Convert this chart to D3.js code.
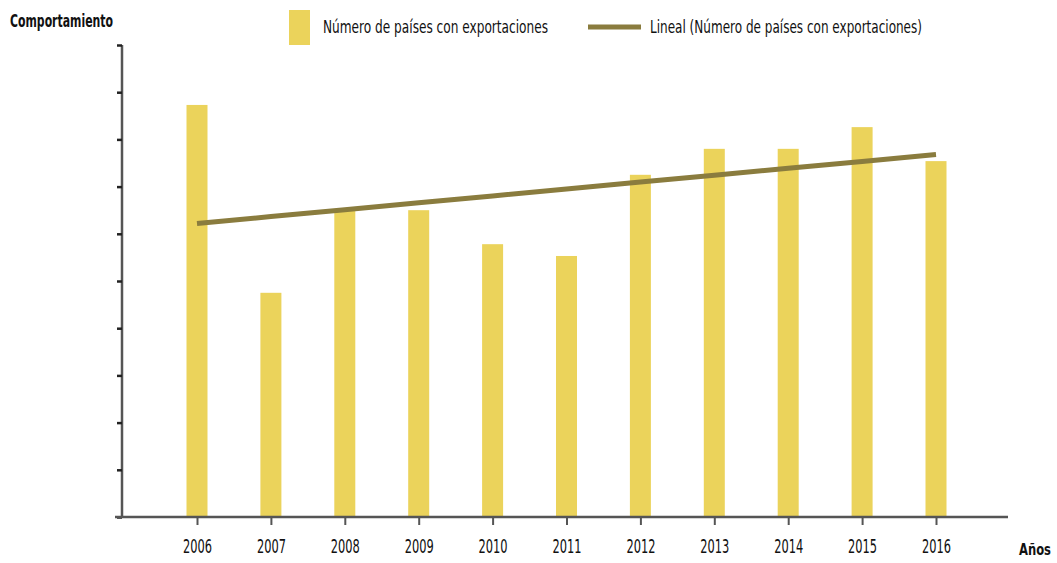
<!DOCTYPE html>
<html><head><meta charset="utf-8">
<script src="https://cdn.jsdelivr.net/npm/d3@7"></script>
<style>
body{margin:0;background:#fff;}
text{font-family:"DejaVu Sans Condensed","Liberation Sans",sans-serif;font-stretch:condensed;}
</style></head><body>
<svg id="c" width="1057" height="563"></svg>
<script>
const years = ["2006","2007","2008","2009","2010","2011","2012","2013","2014","2015","2016"];
const values = [87.3, 47.5, 65, 65, 57.8, 55.3, 72.5, 78, 78, 82.6, 75.4];
const yTicks = [0,10,20,30,40,50,60,70,80,90,100];
const seriesName = "Número de países con exportaciones";
const trendName = "Lineal (Número de países con exportaciones)";

const svg = d3.select("#c");
const barColor = "#EBD35B", lineColor = "#8A7C3E", axisColor = "#555";
const fam = '"DejaVu Sans Condensed","Liberation Sans",sans-serif';

const x = d3.scalePoint().domain(years).range([197, 936]);
const y = d3.scaleLinear().domain([0, 100]).range([517, 45]);
const barW = 21;

// bars
svg.append("g").selectAll("rect").data(values).join("rect")
  .attr("x", (d,i) => x(years[i]) - barW/2)
  .attr("width", barW)
  .attr("y", d => y(d))
  .attr("height", d => y(0) - y(d))
  .attr("fill", barColor);

// linear trend (least squares)
const n = values.length;
const xs = d3.range(n);
const mx = d3.mean(xs), my = d3.mean(values);
const slope = d3.sum(xs, i => (i-mx)*(values[i]-my)) / d3.sum(xs, i => (i-mx)*(i-mx));
const icpt = my - slope*mx;
const trend = xs.map(i => icpt + slope*i);
svg.append("path")
  .attr("d", d3.line().x((d,i) => x(years[i])).y(d => y(d))(trend))
  .attr("stroke", lineColor).attr("stroke-width", 5).attr("fill", "none");

// y axis
const yAxis = svg.append("g").attr("transform","translate(122,0)")
  .call(d3.axisLeft(y).tickValues(yTicks).tickSize(5).tickFormat(""));
yAxis.select(".domain").attr("stroke", axisColor).attr("stroke-width", 2.5).attr("d","M-0,45V518");
yAxis.selectAll(".tick line").attr("stroke","#222").attr("stroke-width",2.5);

// x axis
const xAxis = svg.append("g").attr("transform","translate(0,517)")
  .call(d3.axisBottom(x).tickSize(8).tickPadding(15));
xAxis.select(".domain").attr("stroke", axisColor).attr("stroke-width", 2.5).attr("d","M115,0H1008");
xAxis.selectAll(".tick line").attr("stroke", axisColor).attr("stroke-width", 2);
xAxis.selectAll(".tick text").attr("fill","#111").attr("font-size", 19)
  .style("font-family", fam)
  .attr("textLength", 29).attr("lengthAdjust","spacingAndGlyphs");

// titles
svg.append("text").attr("x", 10).attr("y", 27).attr("font-size", 17).attr("font-weight","bold")
  .attr("fill","#111").attr("textLength",103).attr("lengthAdjust","spacingAndGlyphs").text("Comportamiento");
svg.append("text").attr("x", 1019).attr("y", 555).attr("font-size", 15).attr("font-weight","bold")
  .attr("fill","#111").attr("textLength",32).attr("lengthAdjust","spacingAndGlyphs").text("Años");

// legend
svg.append("rect").attr("x", 289).attr("y", 10).attr("width", 21).attr("height", 35).attr("fill", barColor);
svg.append("text").attr("x", 323).attr("y", 33).attr("font-size", 18).attr("fill","#111")
  .attr("textLength",225).attr("lengthAdjust","spacingAndGlyphs").text(seriesName);
svg.append("line").attr("x1", 588).attr("x2", 641).attr("y1", 27).attr("y2", 27)
  .attr("stroke", lineColor).attr("stroke-width", 5);
svg.append("text").attr("x", 650).attr("y", 33).attr("font-size", 18).attr("fill","#111")
  .attr("textLength",272).attr("lengthAdjust","spacingAndGlyphs").text(trendName);
</script>
</body></html>
